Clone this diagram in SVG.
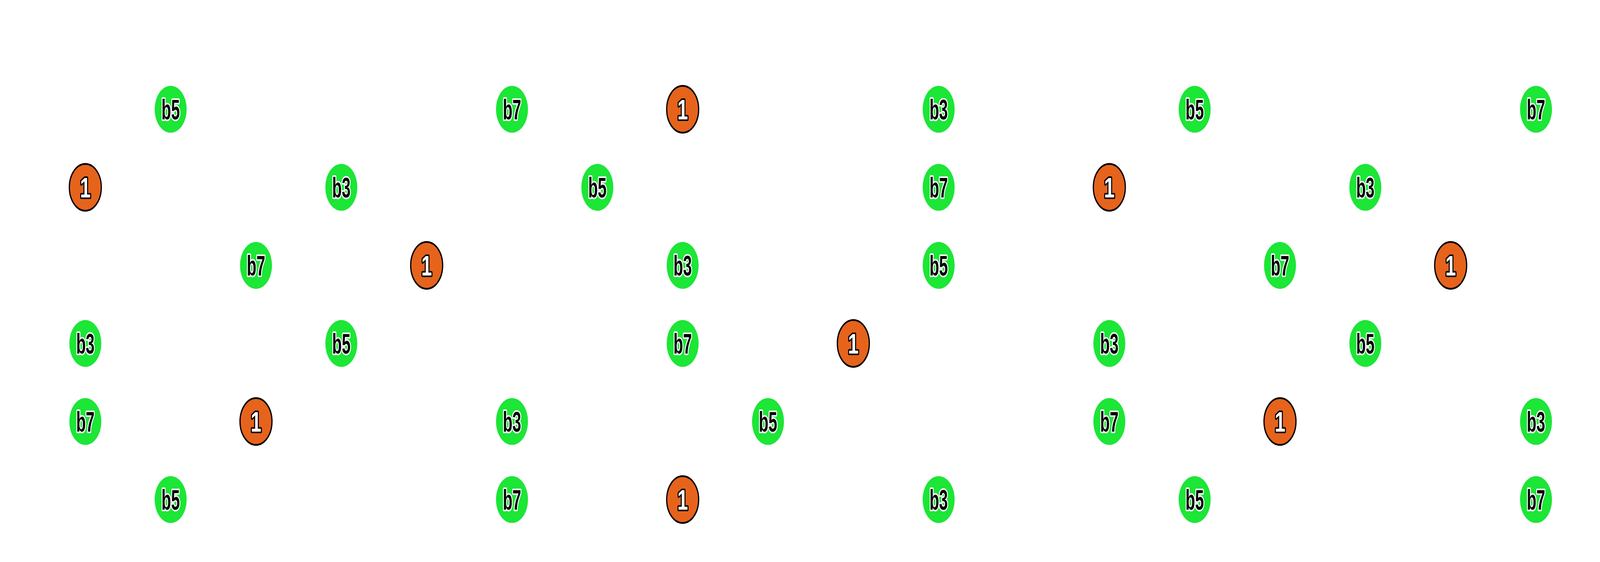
<svg xmlns="http://www.w3.org/2000/svg" width="6000" height="1440" viewBox="0 0 6000 1440" preserveAspectRatio="none">
<style>
svg:root{width:100vw;height:100vh;display:block}
.g circle{fill:#1ce636;stroke:none}
.r circle{fill:#e6631c;stroke:#000;stroke-width:4.5}
text{font-family:"Liberation Sans",Arial,sans-serif;font-weight:bold;font-size:72px;text-anchor:middle;paint-order:stroke;stroke-linejoin:round;stroke-width:8}
.g text{fill:#000;stroke:#fff}
.r text{fill:#fff;stroke:#000}
</style>
<rect width="6000" height="1440" fill="#fff"/>
<g id="nodes">
<g id="n0_1" class="g" transform="translate(640,280)"><circle r="60"/><text y="26" textLength="69" lengthAdjust="spacingAndGlyphs">b5</text></g>
<g id="n0_5" class="g" transform="translate(1920,280)"><circle r="60"/><text y="26" textLength="69" lengthAdjust="spacingAndGlyphs">b7</text></g>
<g id="n0_7" class="r" transform="translate(2560,280)"><circle r="60"/><text y="26">1</text></g>
<g id="n0_10" class="g" transform="translate(3520,280)"><circle r="60"/><text y="26" textLength="69" lengthAdjust="spacingAndGlyphs">b3</text></g>
<g id="n0_13" class="g" transform="translate(4480,280)"><circle r="60"/><text y="26" textLength="69" lengthAdjust="spacingAndGlyphs">b5</text></g>
<g id="n0_17" class="g" transform="translate(5760,280)"><circle r="60"/><text y="26" textLength="69" lengthAdjust="spacingAndGlyphs">b7</text></g>
<g id="n1_0" class="r" transform="translate(320,480)"><circle r="60"/><text y="26">1</text></g>
<g id="n1_3" class="g" transform="translate(1280,480)"><circle r="60"/><text y="26" textLength="69" lengthAdjust="spacingAndGlyphs">b3</text></g>
<g id="n1_6" class="g" transform="translate(2240,480)"><circle r="60"/><text y="26" textLength="69" lengthAdjust="spacingAndGlyphs">b5</text></g>
<g id="n1_10" class="g" transform="translate(3520,480)"><circle r="60"/><text y="26" textLength="69" lengthAdjust="spacingAndGlyphs">b7</text></g>
<g id="n1_12" class="r" transform="translate(4160,480)"><circle r="60"/><text y="26">1</text></g>
<g id="n1_15" class="g" transform="translate(5120,480)"><circle r="60"/><text y="26" textLength="69" lengthAdjust="spacingAndGlyphs">b3</text></g>
<g id="n2_2" class="g" transform="translate(960,680)"><circle r="60"/><text y="26" textLength="69" lengthAdjust="spacingAndGlyphs">b7</text></g>
<g id="n2_4" class="r" transform="translate(1600,680)"><circle r="60"/><text y="26">1</text></g>
<g id="n2_7" class="g" transform="translate(2560,680)"><circle r="60"/><text y="26" textLength="69" lengthAdjust="spacingAndGlyphs">b3</text></g>
<g id="n2_10" class="g" transform="translate(3520,680)"><circle r="60"/><text y="26" textLength="69" lengthAdjust="spacingAndGlyphs">b5</text></g>
<g id="n2_14" class="g" transform="translate(4800,680)"><circle r="60"/><text y="26" textLength="69" lengthAdjust="spacingAndGlyphs">b7</text></g>
<g id="n2_16" class="r" transform="translate(5440,680)"><circle r="60"/><text y="26">1</text></g>
<g id="n3_0" class="g" transform="translate(320,880)"><circle r="60"/><text y="26" textLength="69" lengthAdjust="spacingAndGlyphs">b3</text></g>
<g id="n3_3" class="g" transform="translate(1280,880)"><circle r="60"/><text y="26" textLength="69" lengthAdjust="spacingAndGlyphs">b5</text></g>
<g id="n3_7" class="g" transform="translate(2560,880)"><circle r="60"/><text y="26" textLength="69" lengthAdjust="spacingAndGlyphs">b7</text></g>
<g id="n3_9" class="r" transform="translate(3200,880)"><circle r="60"/><text y="26">1</text></g>
<g id="n3_12" class="g" transform="translate(4160,880)"><circle r="60"/><text y="26" textLength="69" lengthAdjust="spacingAndGlyphs">b3</text></g>
<g id="n3_15" class="g" transform="translate(5120,880)"><circle r="60"/><text y="26" textLength="69" lengthAdjust="spacingAndGlyphs">b5</text></g>
<g id="n4_0" class="g" transform="translate(320,1080)"><circle r="60"/><text y="26" textLength="69" lengthAdjust="spacingAndGlyphs">b7</text></g>
<g id="n4_2" class="r" transform="translate(960,1080)"><circle r="60"/><text y="26">1</text></g>
<g id="n4_5" class="g" transform="translate(1920,1080)"><circle r="60"/><text y="26" textLength="69" lengthAdjust="spacingAndGlyphs">b3</text></g>
<g id="n4_8" class="g" transform="translate(2880,1080)"><circle r="60"/><text y="26" textLength="69" lengthAdjust="spacingAndGlyphs">b5</text></g>
<g id="n4_12" class="g" transform="translate(4160,1080)"><circle r="60"/><text y="26" textLength="69" lengthAdjust="spacingAndGlyphs">b7</text></g>
<g id="n4_14" class="r" transform="translate(4800,1080)"><circle r="60"/><text y="26">1</text></g>
<g id="n4_17" class="g" transform="translate(5760,1080)"><circle r="60"/><text y="26" textLength="69" lengthAdjust="spacingAndGlyphs">b3</text></g>
<g id="n5_1" class="g" transform="translate(640,1280)"><circle r="60"/><text y="26" textLength="69" lengthAdjust="spacingAndGlyphs">b5</text></g>
<g id="n5_5" class="g" transform="translate(1920,1280)"><circle r="60"/><text y="26" textLength="69" lengthAdjust="spacingAndGlyphs">b7</text></g>
<g id="n5_7" class="r" transform="translate(2560,1280)"><circle r="60"/><text y="26">1</text></g>
<g id="n5_10" class="g" transform="translate(3520,1280)"><circle r="60"/><text y="26" textLength="69" lengthAdjust="spacingAndGlyphs">b3</text></g>
<g id="n5_13" class="g" transform="translate(4480,1280)"><circle r="60"/><text y="26" textLength="69" lengthAdjust="spacingAndGlyphs">b5</text></g>
<g id="n5_17" class="g" transform="translate(5760,1280)"><circle r="60"/><text y="26" textLength="69" lengthAdjust="spacingAndGlyphs">b7</text></g>
</g>
</svg>
